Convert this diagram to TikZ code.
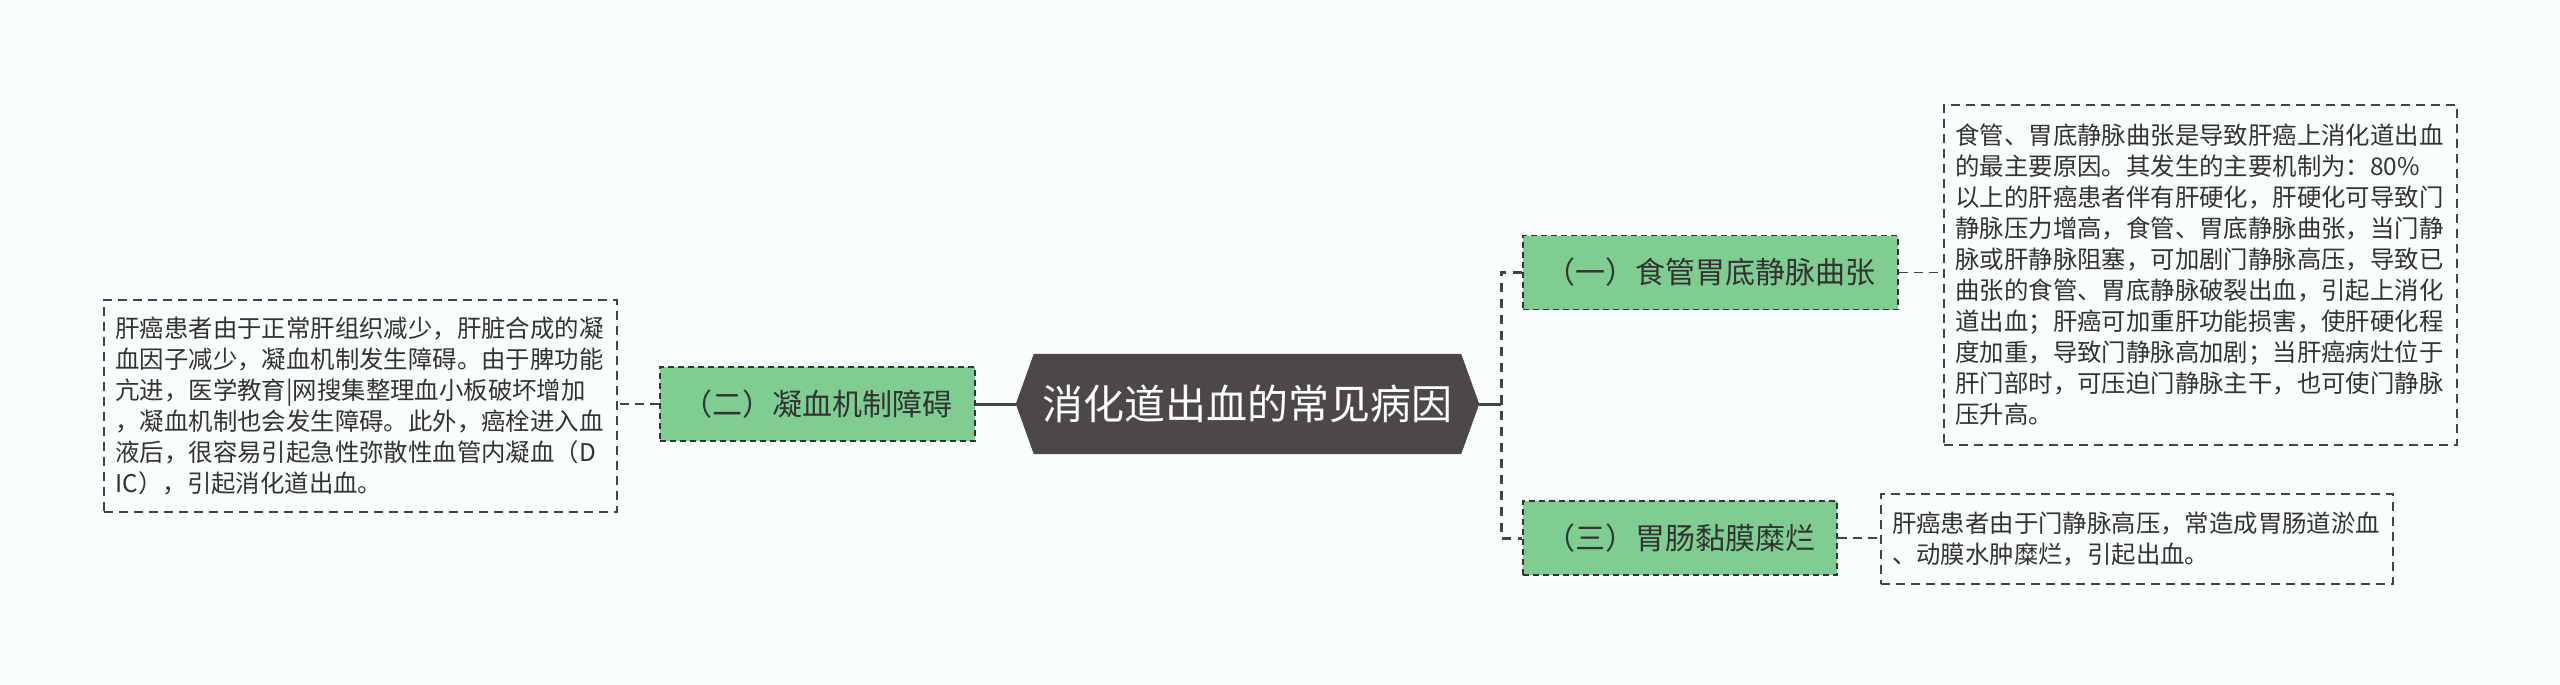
\documentclass[tikz,border=0pt]{standalone}
\usepackage{fontspec}
\setmainfont{Noto Sans CJK SC}
\usetikzlibrary{backgrounds}
\definecolor{bgc}{RGB}{250,253,253}
\definecolor{rootc}{RGB}{76,72,72}
\definecolor{greenc}{RGB}{127,205,145}
\definecolor{linec}{RGB}{68,68,68}
\definecolor{textc}{RGB}{51,51,51}
\tikzset{
  rootnode/.style={minimum width=463pt, minimum height=100pt, inner sep=0pt, text=white, font=\fontsize{41pt}{48pt}\selectfont},
  branchbox/.style={draw=textc, dash pattern=on 6pt off 4pt, line width=1.5pt, fill=greenc, minimum height=74pt, inner sep=0pt, text=textc, font=\fontsize{30pt}{36pt}\selectfont},
  detailbox/.style={draw=linec, dash pattern=on 9pt off 6pt, line width=1.6pt, inner sep=0pt, text width=490pt, align=left, text=textc, font=\fontsize{24.4pt}{31pt}\selectfont},
  thickline/.style={draw=linec, line width=3pt},
  trunkline/.style={draw=linec, line width=3pt, dash pattern=on 9pt off 7pt},
  thinlink/.style={draw=linec, line width=1.6pt, dash pattern=on 9pt off 6pt}
}
\begin{document}
\begin{tikzpicture}[x=1pt,y=-1pt]
\useasboundingbox (0,0) rectangle (2560,685);
\node[rootnode] (root) at (1247.5,404) {消化道出血的常见病因};
\node[branchbox, minimum width=375pt] (g1) at (1710.5,272.5) {（一）食管胃底静脉曲张};
\node[branchbox, minimum width=315pt] (g2) at (817.5,404) {（二）凝血机制障碍};
\node[branchbox, minimum width=314pt] (g3) at (1680,538) {（三）胃肠黏膜糜烂};
\node[detailbox, minimum width=513pt, minimum height=340pt] (d1) at (2200.5,275) {食管、胃底静脉曲张是导致肝癌上消化道出血\\的最主要原因。其发生的主要机制为：80\%\\以上的肝癌患者伴有肝硬化，肝硬化可导致门\\静脉压力增高，食管、胃底静脉曲张，当门静\\脉或肝静脉阻塞，可加剧门静脉高压，导致已\\曲张的食管、胃底静脉破裂出血，引起上消化\\道出血；肝癌可加重肝功能损害，使肝硬化程\\度加重，导致门静脉高加剧；当肝癌病灶位于\\肝门部时，可压迫门静脉主干，也可使门静脉\\压升高。};
\node[detailbox, minimum width=513pt, minimum height=212pt] (d2) at (360.5,406) {肝癌患者由于正常肝组织减少，肝脏合成的凝\\血因子减少，凝血机制发生障碍。由于脾功能\\亢进，医学教育|网搜集整理血小板破坏增加\\，凝血机制也会发生障碍。此外，癌栓进入血\\液后，很容易引起急性弥散性血管内凝血（D\\IC），引起消化道出血。};
\node[detailbox, minimum width=512pt, minimum height=90pt] (d3) at (2137,539) {肝癌患者由于门静脉高压，常造成胃肠道淤血\\、动膜水肿糜烂，引起出血。};
\coordinate (tr) at (1501,404);
\begin{scope}[on background layer]
\fill[bgc] (0,0) rectangle (2560,685);
\fill[rootc] ([xshift=18pt]root.north west) -- ([xshift=-18pt]root.north east) -- (root.east) -- ([xshift=-18pt]root.south east) -- ([xshift=18pt]root.south west) -- (root.west) -- cycle;
\end{scope}
\draw[thickline] (root.west) -- (g2.east);
\draw[thickline] (root.east) -- (tr);
\draw[trunkline] (g1.west) -| (tr) |- (g3.west);
\draw[thinlink] (g2.west) -- (d2.east |- g2.west);
\draw[thinlink] (g1.east) -- (d1.west |- g1.east);
\draw[thinlink] (g3.east) -- (d3.west |- g3.east);
\end{tikzpicture}
\end{document}
